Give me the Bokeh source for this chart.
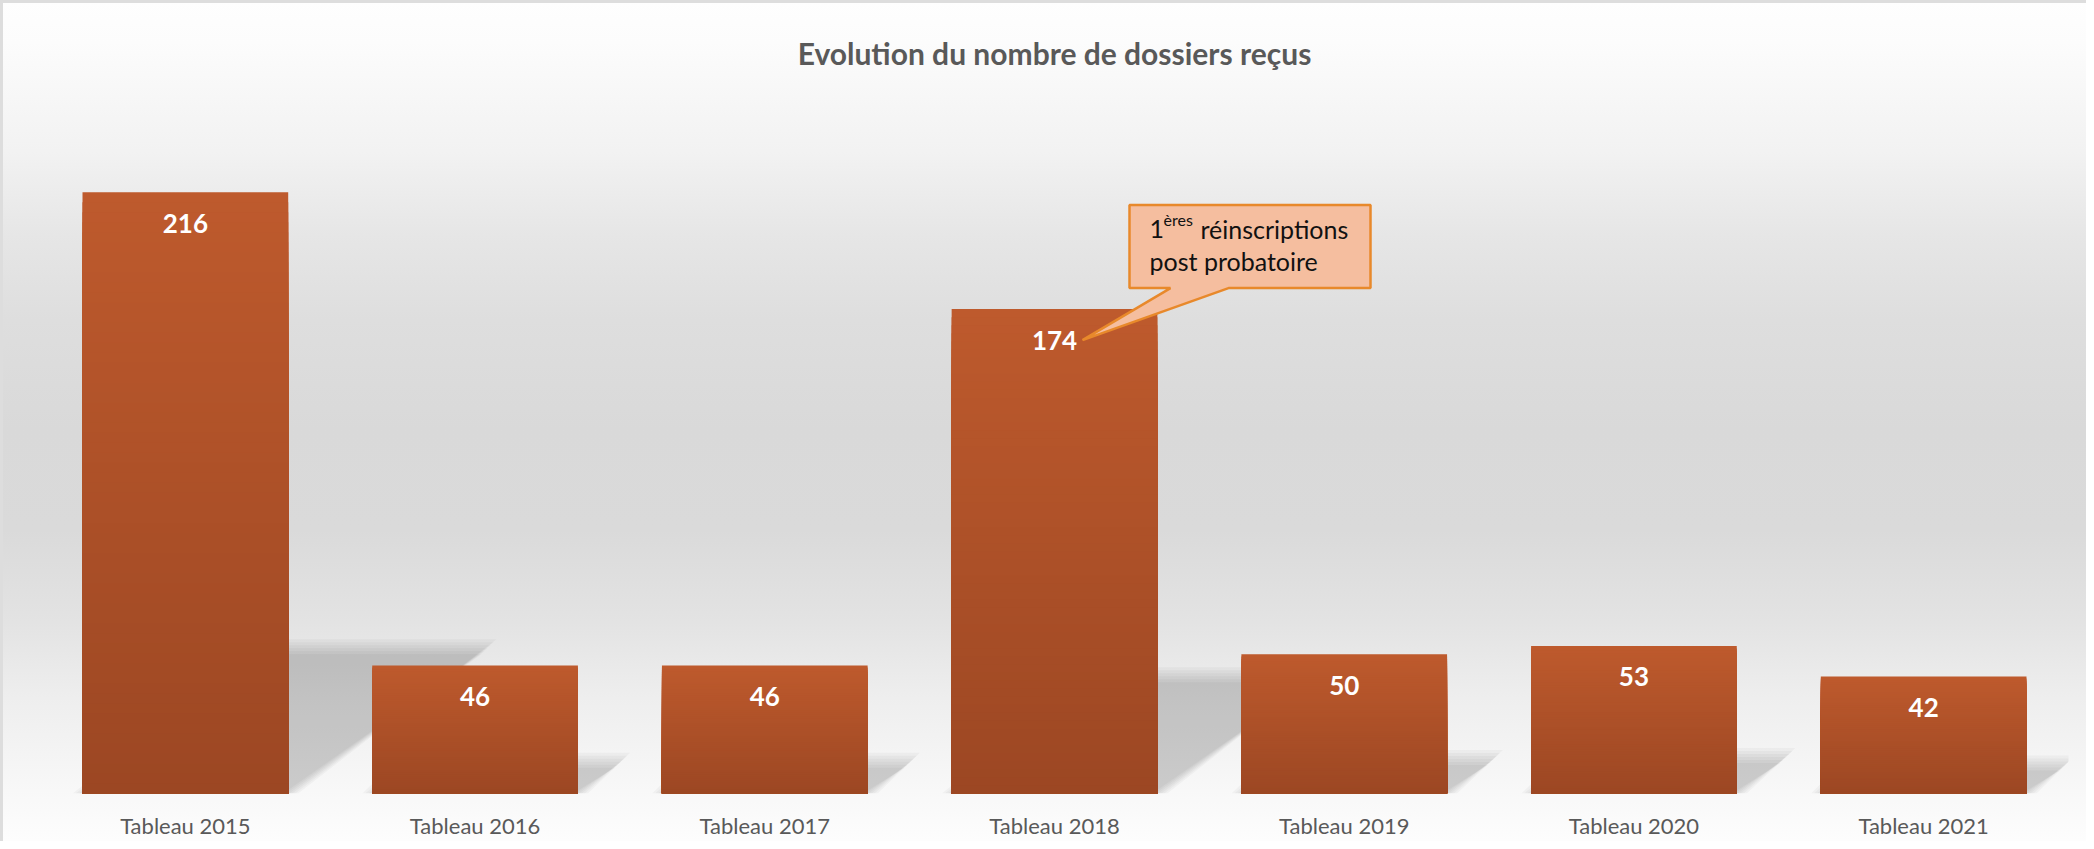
import numpy as np
from bokeh.plotting import figure
from bokeh.models import FactorRange, Range1d, ColumnDataSource
from bokeh.core.properties import value
from bokeh.embed import file_html
from bokeh.resources import INLINE

# ---------------- data ----------------
categories = ["Tableau 2015", "Tableau 2016", "Tableau 2017", "Tableau 2018",
              "Tableau 2019", "Tableau 2020", "Tableau 2021"]
values = [216, 46, 46, 174, 50, 53, 42]
title_text = "Evolution du nombre de dossiers reçus"
callout_category = "Tableau 2018"
callout_line1_num = "1"
callout_line1_sup = "ères"
callout_line1_rest = "réinscriptions"
callout_line2 = "post probatoire"

# ---------------- style ----------------
FONT = "Lato"
LEFT, RIGHT, TOP, BOTTOM = 40, 18, 97, 48
FW, FH = 2028, 696
YMAX = 250
PX_X = FW / len(categories)
PX_Y = FH / YMAX
BAR_W = 0.71
TOP_COL = np.array([0xBE, 0x5A, 0x2D])
BOT_COL = np.array([0x9C, 0x47, 0x23])

p = figure(x_range=FactorRange(*categories), y_range=Range1d(0, YMAX),
           frame_width=FW, frame_height=FH,
           min_border_left=LEFT, min_border_right=RIGHT,
           min_border_top=TOP, min_border_bottom=BOTTOM,
           output_backend="svg", toolbar_location=None, tools="")
p.background_fill_alpha = 0
p.border_fill_alpha = 0
p.outline_line_color = None
p.styles = {
    "background": "linear-gradient(to bottom, #FEFEFE 0%, #FCFCFC 5%, #F2F2F2 18%, "
                  "#E6E6E6 28%, #DEDEDE 38%, #D9D9D9 51%, #DADADA 63%, #E3E3E3 74%, "
                  "#EEEEEE 83%, #F8F8F8 94%, #FDFDFD 100%)",
    "box-shadow": "inset 0 3px 0 #DDDDDD, inset 3px 0 0 #DDDDDD",
}

p.title.text = title_text
p.title.align = "center"
p.title.text_font = FONT
p.title.text_font_style = "bold"
p.title.text_font_size = "30px"
p.title.text_color = "#595959"
p.title.standoff = 54

p.xgrid.grid_line_color = None
p.ygrid.grid_line_color = None
p.yaxis.visible = False
p.xaxis.axis_line_color = None
p.xaxis.major_tick_line_color = None
p.xaxis.minor_tick_line_color = None
p.xaxis.major_label_text_font = FONT
p.xaxis.major_label_text_font_size = "22px"
p.xaxis.major_label_text_color = "#595959"
p.xaxis.major_label_standoff = 12

# ---------------- shadows (perspective, blurred by layering) ----------------
sh_xs, sh_ys = [], []
for i, v in enumerate(values):
    xc = i + 0.5
    xl, xr = xc - BAR_W / 2, xc + BAR_W / 2
    d = 0.33 * v * PX_Y / PX_X
    h = 0.24 * v
    for e in [-5, -2, 1, 4, 7, 10]:
        ex = e / PX_X
        ey = e / PX_Y
        sh_xs.append([xl - ex, xr + ex, xr + d + ex, xl + d - ex])
        sh_ys.append([0, 0, h + ey, h + ey])
p.patches(xs=sh_xs, ys=sh_ys, fill_color="black", fill_alpha=0.032, line_color=None)

# ---------------- bars with vertical gradient ----------------
N = 60
bx, btop, bcol = [], [], []
for k in range(N):
    frac_top = (N - k) / N
    f = (N - k - 0.5) / N
    c = BOT_COL + (TOP_COL - BOT_COL) * f
    col = "#%02x%02x%02x" % tuple(int(round(t)) for t in c)
    for cat, v in zip(categories, values):
        bx.append(cat)
        btop.append(v * frac_top)
        bcol.append(col)
p.vbar(x="x", top="top", width=BAR_W, fill_color="color", line_color=None,
       source=ColumnDataSource(dict(x=bx, top=btop, color=bcol)))

# ---------------- value labels ----------------
p.text(x=categories, y=values, text=[str(v) for v in values],
       text_align="center", text_baseline="middle", y_offset=31,
       text_font=value(FONT), text_font_style="bold", text_font_size="26px",
       text_color="white")

# ---------------- callout ----------------
idx = categories.index(callout_category)
ax = idx + 0.5 + 28 / PX_X
ay = values[idx] - 31 / PX_Y

def pt(dx, dy):
    return ax + dx / PX_X, ay + dy / PX_Y

poly = [(0, 0), (88, 52), (47, 52), (47, 135), (288, 135), (288, 52), (146, 52)]
cx = [pt(a, b)[0] for a, b in poly]
cy = [pt(a, b)[1] for a, b in poly]
p.patch(cx, cy, fill_color="#F5BE9F", line_color="#E8892B", line_width=2.5)

def ctext(dx, dy, s, size):
    x, y = pt(dx, dy)
    p.text(x=[x], y=[y], text=[s], text_align="left", text_baseline="alphabetic",
           text_font=value(FONT), text_font_size=size, text_color="#111111")

ctext(67, 111, callout_line1_num, "25px")
ctext(81, 121, callout_line1_sup, "16px")
ctext(118, 111, callout_line1_rest, "25px")
ctext(67, 79, callout_line2, "25px")

open("out.html", "w").write(file_html(p, INLINE))
